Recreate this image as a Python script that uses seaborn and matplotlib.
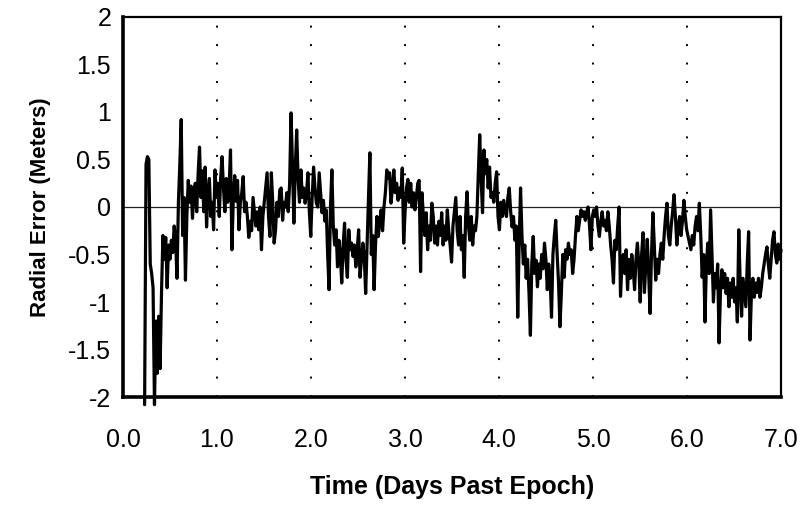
import numpy as np
import pandas as pd
import seaborn as sns
import matplotlib
matplotlib.use("Agg")
import matplotlib.pyplot as plt

sns.set_theme(style="white")
plt.rcParams['font.family'] = ['Liberation Sans', 'DejaVu Sans']
plt.rcParams['text.color'] = 'black'
plt.rcParams['axes.labelcolor'] = 'black'

# radial error samples (meters), in time order
err_start = [-2.08, 0.45, 0.53, 0.50, -0.60, -0.70, -0.85, -2.08, -1.2, -1.75,
             -1.15, -1.7, -0.9, -0.3, -0.55, -0.32, -0.85, -0.40, -0.55, -0.35,
             -0.48, -0.20, -0.35, -0.75, 0.05, 0.45, 0.92, -0.30, 0.10, -0.77,
             -0.10, 0.28, 0.05, 0.22, -0.12, 0.15, 0.25, -0.05, 0.35, 0.63,
             0.10, 0.38, -0.05, 0.42, -0.21, 0.15, 0.30, -0.10, 0.05, -0.24,
             0.39, 0.10]
err_day1 = [0.25, -0.10, 0.30, 0.53, 0.20, -0.05, 0.30, 0.05, 0.20, 0.60,
            -0.45, 0.10, 0.33, 0.06, 0.28, -0.24, 0.05, 0.15, 0.32, -0.05,
            0.05, -0.10, -0.32, -0.15, -0.25, 0.10, -0.05, -0.20, -0.05, -0.24,
            0.00, -0.45, -0.10, 0.05, 0.20, 0.36, -0.10, -0.31, 0.36, 0.05,
            -0.38, -0.24, 0.05, -0.10, 0.18, 0.20, -0.14, 0.05, 0.00, 0.15,
            -0.05, 0.25, 0.99, 0.45, -0.17, 0.40, 0.81, 0.30, 0.05, 0.39,
            0.10, 0.20, 0.04, 0.15, 0.36, -0.05, -0.31]
err_day2 = [0.10, 0.42, 0.20, 0.04, 0.00, 0.36, 0.15, -0.06, 0.07, -0.15,
            -0.03, -0.50, -0.87, 0.00, 0.39, -0.20, -0.40, -0.24, -0.63, -0.35,
            -0.50, -0.80, -0.40, -0.17, -0.55, -0.74, -0.24, -0.45, -0.38, -0.52,
            -0.40, -0.63, -0.45, -0.24, -0.74, -0.55, -0.38, -0.52, -0.91, -0.40,
            0.10, 0.57, -0.50, -0.30, -0.87, -0.40, -0.10, -0.31, -0.15, -0.03,
            -0.25, 0.00, 0.15, 0.39, 0.30, 0.36, 0.04, 0.20, 0.39, 0.15,
            0.25, 0.07, 0.20, 0.10, 0.41, -0.38, -0.05]
err_day3 = [0.20, 0.29, 0.05, 0.25, 0.00, 0.15, -0.03, 0.10, 0.25, 0.28,
            -0.68, 0.15, -0.10, -0.30, -0.06, -0.45, -0.20, -0.35, 0.04, -0.10,
            -0.38, -0.20, -0.40, -0.15, -0.30, -0.06, -0.40, -0.20, -0.35, -0.03,
            -0.25, -0.40, -0.58, -0.20, -0.05, 0.10, -0.25, -0.40, -0.10, -0.45,
            -0.30, -0.74, -0.10, 0.16, -0.20, -0.35, -0.10, -0.40, -0.20, -0.25,
            -0.10, 0.35, 0.76, 0.30, -0.06, 0.60, 0.35, 0.50, 0.20, 0.42,
            0.10, 0.15, 0.05, 0.25, 0.37, -0.10, -0.24]
err_day4 = [0.05, -0.10, 0.07, -0.05, -0.10, 0.10, 0.20, -0.05, -0.21, -0.10,
            -0.35, -0.20, -1.16, -0.40, 0.20, -0.30, -0.60, -0.40, -0.75, -0.55,
            -0.90, -1.35, -0.60, -0.31, -0.70, -0.56, -0.84, -0.60, -0.75, -0.50,
            -0.65, -0.38, -0.55, -0.87, -0.60, -0.75, -1.16, -0.50, -0.30, -0.14,
            -0.50, -0.80, -1.26, -0.90, -0.50, -0.74, -0.45, -0.55, -0.38, -0.50,
            -0.45, -0.70, -0.55, -0.31, -0.10, -0.25, -0.14, -0.03, -0.10, -0.05,
            -0.14, -0.05, 0.00, -0.20, -0.45, -0.10]
err_day5 = [-0.03, -0.10, 0.00, -0.20, -0.31, -0.15, -0.05, -0.20, -0.14, -0.25,
            -0.05, -0.20, -0.40, -0.55, -0.80, -0.35, -0.45, -0.20, 0.00, -0.94,
            -0.60, -0.50, -0.70, -0.45, -0.87, -0.55, -0.75, -0.50, -0.65, -0.87,
            -0.55, -0.38, -0.60, -1.00, -0.50, -0.27, -0.90, -0.60, -0.34, -0.70,
            -1.12, -0.50, -0.06, -0.40, -0.77, -0.55, -0.70, -0.50, -0.38, -0.55,
            -0.30, -0.10, 0.04, -0.30, -0.40, -0.20, -0.05, 0.13, -0.10, -0.40,
            -0.20, -0.10, -0.30, -0.15, 0.07, -0.10, -0.24]
err_day6 = [-0.31, -0.38, -0.45, -0.30, -0.40, -0.20, -0.10, -0.25, 0.04, -0.30,
            -0.74, -0.50, -1.21, -0.60, -0.38, -0.70, -0.03, -0.50, -1.00, -0.70,
            -0.85, -0.60, -1.43, -0.90, -0.66, -0.85, -0.70, -0.91, -0.75, -1.05,
            -0.80, -0.95, -0.75, -1.00, -0.85, -1.21, -0.24, -0.80, -1.15, -0.75,
            -0.90, -1.05, -0.60, -0.26, -1.40, -0.90, -0.75, -0.95, -0.80, -0.90,
            -0.75, -0.95, -0.85, -0.70, -0.60, -0.50, -0.42, -0.60, -0.75, -0.55,
            -0.35, -0.26, -0.50, -0.59, -0.39, -0.55, -0.45]

radial_error = err_start + err_day1 + err_day2 + err_day3 + err_day4 + err_day5 + err_day6
first_day, last_day = 0.23, 7.0
days = np.linspace(first_day, last_day, len(radial_error))

x_ticks = [0, 1, 2, 3, 4, 5, 6, 7]
x_tick_labels = ["0.0", "1.0", "2.0", "3.0", "4.0", "5.0", "6.0", "7.0"]
y_ticks = [-2, -1.5, -1, -0.5, 0, 0.5, 1, 1.5, 2]
y_tick_labels = ["-2", "-1.5", "-1", "-0.5", "0", "0.5", "1", "1.5", "2"]

df = pd.DataFrame({"Time": days, "Radial Error": radial_error})

fig = plt.figure(figsize=(8.06, 5.13), dpi=100)
ax = fig.add_axes([0.1526, 0.226, 0.8164, 0.741])

for d in x_ticks[1:-1]:
    ax.axvline(d, color="black", lw=1.4, linestyle=(0, (1, 8.5)), zorder=1)
ax.axhline(0, color="#222222", lw=0.9, zorder=1)

sns.lineplot(data=df, x="Time", y="Radial Error", ax=ax, color="black",
             linewidth=2.3, sort=False, estimator=None, zorder=3, clip_on=False)

ax.set_xlim(0, 7)
ax.set_ylim(-2, 2)
ax.set_xticks(x_ticks)
ax.set_xticklabels(x_tick_labels)
ax.set_yticks(y_ticks)
ax.set_yticklabels(y_tick_labels)
ax.tick_params(axis="x", length=0, pad=22, labelsize=18, colors="black")
ax.tick_params(axis="y", direction="inout", length=7, width=1.5, pad=5,
               labelsize=18, colors="black")

ax.set_xlabel("Time (Days Past Epoch)", fontsize=18, fontweight="bold", labelpad=17)
ax.set_ylabel("Radial Error (Meters)", fontsize=16, fontweight="bold", labelpad=12)

for side in ["left", "bottom"]:
    ax.spines[side].set_linewidth(2.6)
for side in ["top", "right"]:
    ax.spines[side].set_linewidth(1.6)
for s in ax.spines.values():
    s.set_color("black")
    s.set_zorder(4)

fig.savefig("out.png", dpi=100)
